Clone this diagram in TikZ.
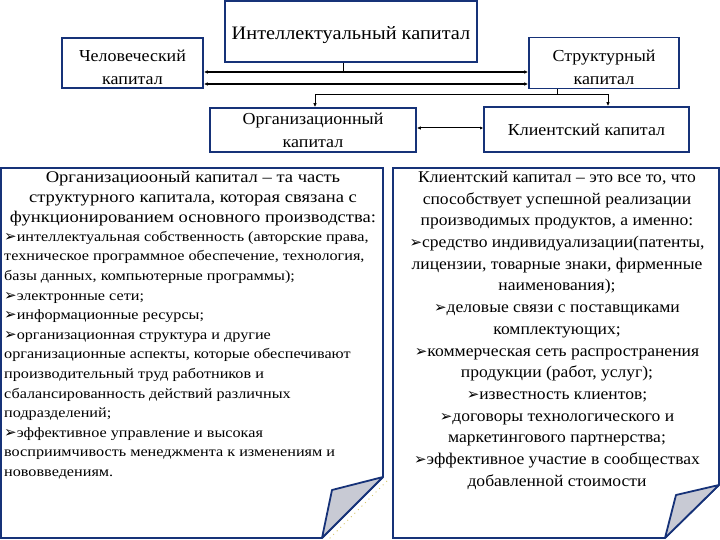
\documentclass[tikz,border=0pt]{standalone}
\usepackage{fontspec}
\setmainfont{Liberation Serif}[FakeStretch=1.07]
\newfontfamily\leftfont{Liberation Serif}[FakeStretch=1.14]
\newfontfamily\dvfont{DejaVu Sans}
\usetikzlibrary{arrows.meta}
\definecolor{navy}{RGB}{22,50,120}
\definecolor{foldgray}{RGB}{200,202,212}
\definecolor{dotyel}{RGB}{215,200,110}
\newcommand{\bul}{{\dvfont\fontsize{15}{13}\selectfont ➢}}
\tikzset{
  box/.style={draw=navy, line width=1.6pt, fill=white, inner sep=0pt, align=center},
  conn/.style={line width=1pt, black},
  tip/.style={-{Latex[length=4pt,width=3.5pt]}},
  panel/.style={draw=navy, line width=1.6pt, fill=white},
  fold/.style={draw=navy, line width=1.8pt, fill=foldgray, line join=round},
  txt/.style={inner sep=0pt, text=black}
}
\begin{document}
\begin{tikzpicture}[x=1pt,y=-1pt]
\useasboundingbox (0,0) rectangle (720,540);
% top boxes
\node[box, minimum width=252pt, minimum height=61pt] (intel) at (351,31.5) {};
\node[txt, font=\fontsize{19}{22}\selectfont] at (intel.center) [yshift=-4pt] {Интеллектуальный капитал};
\node[box, minimum width=141pt, minimum height=50pt] (hum) at (132.5,63) {};
\node[txt, align=center, font=\fontsize{16.8}{23}\selectfont] at (hum.center) [yshift=-4pt] {Человеческий\\капитал};
\node[box, minimum width=150pt, minimum height=51pt] (str) at (604,63) {};
\node[txt, align=center, font=\fontsize{16.8}{23}\selectfont] at (str.center) [yshift=-4pt] {Структурный\\капитал};
\node[box, minimum width=206pt, minimum height=44pt, font=\fontsize{16.8}{23}\selectfont] (org) at (313,130) {Организационный\\капитал};
\node[box, minimum width=205pt, minimum height=45pt, font=\fontsize{16.8}{23}\selectfont] (cli) at (586.5,129.5) {Клиентский капитал};
% connectors
\draw[conn] (intel.south -| 343,0) -- (343,72);
\draw[line width=2pt, {Latex[length=4pt,width=3.5pt]}-{Latex[length=4pt,width=3.5pt]}] (hum.east |- 0,72) -- (str.west |- 0,72);
\draw[line width=1.3pt, {Latex[length=4pt,width=3.5pt]}-{Latex[length=4pt,width=3.5pt]}] (hum.east |- 0,84) -- (str.west |- 0,84);
\draw[conn] (str.south -| 557,0) -- (557,95);
\draw[conn, tip] (557,95) -- (315,95) -- (org.north -| 315,0);
\draw[conn, tip] (557,95) -- (608,95) -- (cli.north -| 608,0);
\draw[conn, {Latex[length=4pt,width=3.5pt]}-{Latex[length=3pt,width=3pt]}] (org.east |- 0,128) -- (cli.west |- 0,128);
% left panel
\draw[panel] (1,168) -- (383,168) -- (383,477) -- (322,538) -- (1,538) -- cycle;
\draw[dotyel, line width=0.9pt, dash pattern=on 1pt off 4pt] (387,481) -- (326,542);
\draw[fold] (383,477) -- (332,490) -- (322,538) -- cycle;
% right panel
\draw[panel] (393,168) -- (719,168) -- (719,485) -- (665,538) -- (393,538) -- cycle;
\draw[fold] (719,485) -- (676,495) -- (665,538) -- cycle;
% left text
\node[txt, anchor=north, align=center, font=\leftfont\fontsize{16.3}{20}\selectfont] (lhead) at (193,171) {Организациооный капитал – та часть\\структурного капитала, которая связана с\\функционированием основного производства:};
\node[txt, anchor=north west, align=left, font=\leftfont\fontsize{14.2}{19.6}\selectfont] (lbody) at (4,231) {\bul интеллектуальная собственность (авторские права,\\техническое программное обеспечение, технология,\\базы данных, компьютерные программы);\\\bul электронные сети;\\\bul информационные ресурсы;\\\bul организационная структура и другие\\организационные аспекты, которые обеспечивают\\производительный труд работников и\\сбалансированность действий различных\\подразделений;\\\bul эффективное управление и высокая\\восприимчивость менеджмента к изменениям и\\нововведениям.};
% right text
\node[txt, anchor=north, align=center, font=\fontsize{16.4}{21.7}\selectfont] (rbody) at (557,171) {Клиентский капитал – это все то, что\\способствует успешной реализации\\производимых продуктов, а именно:\\\bul средство индивидуализации(патенты,\\лицензии, товарные знаки, фирменные\\наименования);\\\bul деловые связи с поставщиками\\комплектующих;\\\bul коммерческая сеть распространения\\продукции (работ, услуг);\\\bul известность клиентов;\\\bul договоры технологического и\\маркетингового партнерства;\\\bul эффективное участие в сообществах\\добавленной стоимости};
\end{tikzpicture}
\end{document}
